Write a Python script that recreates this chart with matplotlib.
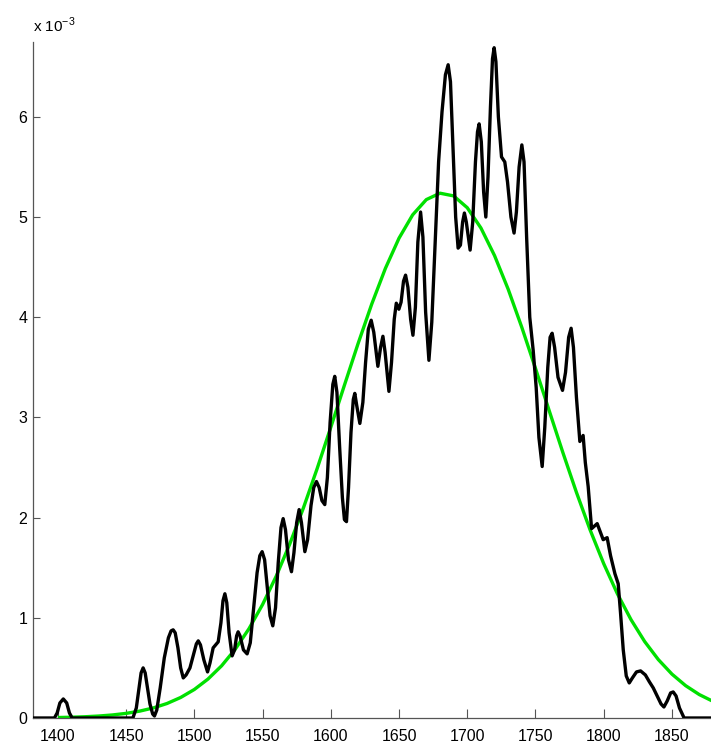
import matplotlib
matplotlib.use("Agg")
import matplotlib.pyplot as plt
import numpy as np

plt.rcParams['font.family'] = ['Liberation Sans', 'DejaVu Sans']

# Kernel density estimate (black), values in units of 1e-3
kde_x = [1380, 1397.5, 1399.5, 1401.5, 1404, 1406.5, 1408.5, 1410.5, 1455, 1457.5,
         1459.5, 1461, 1462.5, 1464, 1465.5, 1467.5, 1469.5, 1470.8, 1472.5, 1475,
         1478, 1481, 1483, 1484.5, 1486, 1488, 1490, 1491.9, 1494, 1496.8,
         1499.5, 1501.5, 1502.9, 1504.5, 1507, 1509.7, 1511.5, 1513.8, 1517.5, 1519.5,
         1521, 1522.4, 1523.8, 1525.5, 1527.7, 1529.5, 1531, 1532.1, 1533.5, 1536,
         1538.7, 1541, 1543.5, 1546, 1548, 1549.7, 1551.5, 1553.5, 1555.5, 1557.5,
         1559.5, 1561.5, 1563.5, 1565.1, 1566.8, 1569, 1571.2, 1573, 1575, 1576.8,
         1578.5, 1581, 1583, 1585.5, 1587.5, 1589.5, 1591.5, 1593.5, 1595.6, 1597.5,
         1599.5, 1601.5, 1602.9, 1604.5, 1606.5, 1608.5, 1610, 1611.5, 1613, 1614.8,
         1616.5, 1617.6, 1619, 1621.3, 1623.5, 1625.5, 1627.5, 1629.6, 1631.5, 1634.5,
         1636.5, 1638.2, 1639.8, 1642.6, 1644.5, 1646.5, 1648.0, 1649.9, 1651.5, 1653.3,
         1654.8, 1656.5, 1658.5, 1660.2, 1662, 1663.8, 1665.8, 1667.5, 1669.5, 1671.9,
         1674, 1676.5, 1679, 1681.5, 1684, 1686, 1687.7, 1689.5, 1691.5, 1693.3,
         1695, 1696.6, 1697.9, 1699.3, 1702.1, 1704, 1706, 1707.5, 1708.7, 1710.3,
         1712, 1713.6, 1715.2, 1717, 1718.5, 1719.7, 1721, 1722.8, 1725.1, 1727.5,
         1729.5, 1732, 1734.3, 1736, 1738, 1740, 1741.6, 1743.5, 1745.8, 1748.3,
         1750.5, 1752.5, 1754.9, 1756.8, 1759, 1760.7, 1762.2, 1764, 1766.5, 1769.8,
         1772, 1774.3, 1776.1, 1777.8, 1780, 1782.5, 1784.9, 1786.5, 1788.6, 1791.1,
         1795.2, 1799.6, 1802.5, 1805, 1808.2, 1810.6, 1812.3, 1814.3, 1816.5, 1818.7,
         1821, 1824, 1827, 1830.5, 1833.5, 1836.3, 1839.9, 1842, 1844.1, 1846.5,
         1849, 1850.9, 1853, 1855.5, 1858.9, 1885]
kde_y = [0, 0, 0.05, 0.15, 0.19, 0.15, 0.05, 0, 0, 0.10,
         0.30, 0.45, 0.50, 0.45, 0.32, 0.14, 0.04, 0.02, 0.08, 0.30,
         0.60, 0.80, 0.87, 0.88, 0.85, 0.70, 0.50, 0.40, 0.43, 0.50,
         0.64, 0.74, 0.77, 0.73, 0.58, 0.46, 0.55, 0.70, 0.76, 0.95,
         1.17, 1.24, 1.15, 0.85, 0.62, 0.68, 0.82, 0.86, 0.82, 0.68,
         0.64, 0.75, 1.10, 1.45, 1.62, 1.66, 1.58, 1.30, 1.02, 0.92,
         1.10, 1.55, 1.90, 1.99, 1.88, 1.58, 1.46, 1.65, 1.95, 2.08,
         1.95, 1.66, 1.78, 2.12, 2.30, 2.36, 2.30, 2.17, 2.13, 2.40,
         2.95, 3.33, 3.41, 3.25, 2.70, 2.20, 1.98, 1.96, 2.30, 2.85,
         3.18, 3.24, 3.12, 2.94, 3.15, 3.55, 3.88, 3.97, 3.85, 3.51,
         3.70, 3.81, 3.65, 3.26, 3.55, 3.98, 4.14, 4.08, 4.15, 4.36,
         4.42, 4.30, 3.98, 3.82, 4.10, 4.75, 5.05, 4.80, 4.05, 3.57,
         3.95, 4.75, 5.55, 6.05, 6.42, 6.52, 6.35, 5.70, 5.00, 4.69,
         4.72, 4.95, 5.04, 4.95, 4.67, 4.95, 5.55, 5.85, 5.93, 5.75,
         5.25, 5.00, 5.40, 6.10, 6.58, 6.69, 6.55, 6.00, 5.60, 5.55,
         5.35, 5.00, 4.84, 5.05, 5.50, 5.72, 5.55, 4.80, 4.00, 3.67,
         3.30, 2.80, 2.51, 2.90, 3.50, 3.80, 3.84, 3.70, 3.40, 3.27,
         3.45, 3.80, 3.89, 3.70, 3.20, 2.76, 2.82, 2.55, 2.31, 1.89,
         1.94, 1.78, 1.80, 1.62, 1.44, 1.34, 1.05, 0.68, 0.42, 0.35,
         0.40, 0.46, 0.47, 0.43, 0.36, 0.30, 0.20, 0.14, 0.11, 0.17,
         0.25, 0.26, 0.22, 0.10, 0, 0]

# Fitted normal curve (green), values in units of 1e-3
fit_x = [1400, 1410, 1420, 1430, 1440, 1450, 1460, 1470, 1480, 1490,
         1500, 1510, 1520, 1530, 1540, 1550, 1560, 1570, 1580, 1590,
         1600, 1610, 1620, 1630, 1640, 1650, 1660, 1670, 1680, 1690,
         1700, 1710, 1720, 1730, 1740, 1750, 1760, 1770, 1780, 1790,
         1800, 1810, 1820, 1830, 1840, 1850, 1860, 1870, 1880]
fit_y = [0.0048, 0.0078, 0.0125, 0.0197, 0.0304, 0.0461, 0.0687, 0.1006, 0.1448, 0.2048,
         0.2845, 0.3884, 0.5211, 0.6869, 0.8898, 1.132, 1.415, 1.739, 2.099, 2.489,
         2.901, 3.322, 3.737, 4.131, 4.487, 4.789, 5.022, 5.174, 5.238, 5.211,
         5.093, 4.891, 4.615, 4.279, 3.898, 3.489, 3.069, 2.652, 2.252, 1.878,
         1.540, 1.240, 0.9814, 0.7630, 0.5832, 0.4378, 0.3229, 0.2340, 0.1666]

x_ticks = [1400, 1450, 1500, 1550, 1600, 1650, 1700, 1750, 1800, 1850]
y_ticks = [0, 1, 2, 3, 4, 5, 6]

W, H = 711, 751
fig = plt.figure(figsize=(W / 100, H / 100), dpi=100)
ax = fig.add_axes([33 / W, 33 / H, (W - 33) / W, (718 - 42) / H])

ax.plot(fit_x, fit_y, color='#00e000', lw=2.4, solid_capstyle='butt', zorder=2)
ax.plot(kde_x, kde_y, color='black', lw=2.4, solid_joinstyle='round', zorder=3)

ax.set_xlim(1381.8, 1878.6)
ax.set_ylim(0, 6.747)
ax.set_xticks(x_ticks)
ax.set_yticks(y_ticks)
ax.set_xticklabels([str(v) for v in x_ticks])
ax.set_yticklabels([str(v) for v in y_ticks])

for s in ['top', 'right']:
    ax.spines[s].set_visible(False)
for s in ['left', 'bottom']:
    ax.spines[s].set_color('#555555')
    ax.spines[s].set_linewidth(0.9)
ax.tick_params(axis='x', direction='in', length=6.5, width=0.8, color='#555555',
               labelsize=11.5, pad=8)
ax.tick_params(axis='y', direction='in', length=5, width=0.8, color='#555555',
               labelsize=11.5, pad=4)

fig.text(33 / W, 1 - 32 / H, 'x 10$^{\\mathregular{-3}}$', fontsize=11,
         ha='left', va='baseline')

fig.savefig('out.png', dpi=100)
